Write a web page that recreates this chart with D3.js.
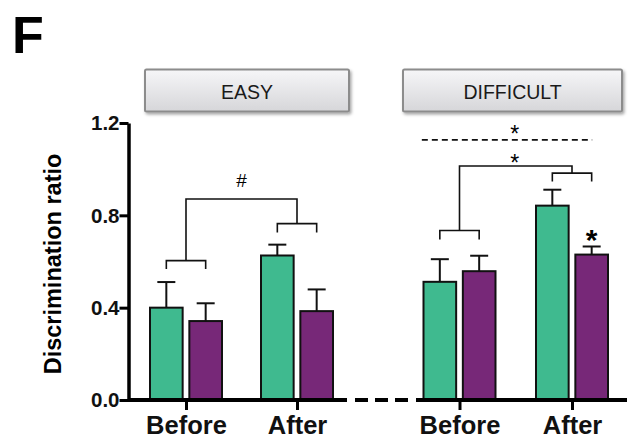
<!DOCTYPE html>
<html><head><meta charset="utf-8">
<script src="https://cdn.jsdelivr.net/npm/d3@7"></script>
<style>body{margin:0;background:#fff}svg{display:block}text{font-family:"Liberation Sans",Arial,sans-serif}</style>
</head><body><svg id="c" width="638" height="441"></svg>
<script>
// ---- data ----
const sessions = ["Before", "After"];
const series = ["Series A", "Series B"];
const seriesColors = ["#3fba8f", "#772878"];
const yTicks = [0.0, 0.4, 0.8, 1.2];
const panelTitles = ["EASY", "DIFFICULT"];
const easyA = [0.400, 0.626];
const easyAErr = [0.111, 0.047];
const easyB = [0.342, 0.385];
const easyBErr = [0.077, 0.094];
const diffA = [0.512, 0.842];
const diffAErr = [0.098, 0.069];
const diffB = [0.558, 0.630];
const diffBErr = [0.067, 0.035];

const svg = d3.select("#c");
const y = d3.scaleLinear().domain([0, 1.2]).range([400, 123]);
const sub = d3.scaleBand().domain(series).range([-36, 36]).paddingInner(0.17);
const bw = sub.bandwidth();

const panels = [
  {title: panelTitles[0], x: d3.scalePoint().domain(sessions).range([186, 297]), axis: [128, 347], box: [145, 349],
   vals: [easyA, easyB], errs: [easyAErr, easyBErr]},
  {title: panelTitles[1], x: d3.scalePoint().domain(sessions).range([459.5, 572]), axis: [416, 627], box: [403, 622],
   vals: [diffA, diffB], errs: [diffAErr, diffBErr]}
];

// defs
const defs = svg.append("defs");
const grad = defs.append("linearGradient").attr("id", "bg").attr("x1", 0).attr("x2", 0).attr("y1", 0).attr("y2", 1);
grad.append("stop").attr("offset", "0%").attr("stop-color", "#f6f6f8");
grad.append("stop").attr("offset", "100%").attr("stop-color", "#d6d6d9");
const f = defs.append("filter").attr("id", "sh").attr("x", "-10%").attr("y", "-20%").attr("width", "130%").attr("height", "160%");
f.append("feDropShadow").attr("dx", 1.5).attr("dy", 2).attr("stdDeviation", 1.5).attr("flood-color", "#000").attr("flood-opacity", 0.35);

// panel letter
svg.append("text").attr("x", 12).attr("y", 53).attr("font-size", 52).attr("font-weight", "bold").text("F");

// y axis
const ya = svg.append("g").attr("transform", "translate(128.5,0)")
  .call(d3.axisLeft(y).tickValues(yTicks).tickFormat(d3.format(".1f")).tickSize(9).tickSizeOuter(0));
ya.select(".domain").attr("stroke-width", 3.5);
ya.selectAll(".tick line").attr("stroke-width", 3);
ya.selectAll(".tick text").attr("font-size", 20.5).attr("font-weight", "bold").attr("fill", "#111").attr("x", -9).attr("dy", "0.34em");

svg.append("text").attr("transform", "translate(61,264) rotate(-90)").attr("text-anchor", "middle")
  .attr("font-size", 23.5).attr("font-weight", "bold").text("Discrimination ratio");

panels.forEach(p => {
  // title box
  svg.append("rect").attr("x", p.box[0]).attr("y", 69.5).attr("width", p.box[1] - p.box[0]).attr("height", 42)
    .attr("rx", 1.5).attr("fill", "url(#bg)").attr("stroke", "#8c8c8c").attr("stroke-width", 2).attr("filter", "url(#sh)");
  svg.append("text").attr("x", (p.box[0] + p.box[1]) / 2).attr("y", 99).attr("text-anchor", "middle")
    .attr("font-size", 19.5).attr("fill", "#1a1a1a").text(p.title);

  // bars
  p.vals.forEach((vals, si) => {
    const g = svg.append("g");
    g.selectAll("rect").data(sessions).join("rect")
      .attr("x", s => p.x(s) + sub(series[si]))
      .attr("y", (s, i) => y(vals[i]))
      .attr("width", bw)
      .attr("height", (s, i) => y(0) - y(vals[i]))
      .attr("fill", seriesColors[si]).attr("stroke", "#111").attr("stroke-width", 2);
    // error bars
    sessions.forEach((s, i) => {
      const cx = p.x(s) + sub(series[si]) + bw / 2;
      g.append("line").attr("x1", cx).attr("x2", cx).attr("y1", y(vals[i])).attr("y2", y(vals[i] + p.errs[si][i]))
        .attr("stroke", "#111").attr("stroke-width", 2);
      g.append("line").attr("x1", cx - 9).attr("x2", cx + 9).attr("y1", y(vals[i] + p.errs[si][i])).attr("y2", y(vals[i] + p.errs[si][i]))
        .attr("stroke", "#111").attr("stroke-width", 2);
    });
  });

  // x axis
  svg.append("line").attr("x1", p.axis[0]).attr("x2", p.axis[1]).attr("y1", y(0)).attr("y2", y(0))
    .attr("stroke", "#000").attr("stroke-width", 4);
  const xa = svg.append("g").attr("transform", `translate(0,${y(0)})`)
    .call(d3.axisBottom(p.x).tickSize(10).tickSizeOuter(0));
  xa.select(".domain").remove();
  xa.selectAll(".tick line").attr("stroke-width", 3).attr("stroke", "#000");
  xa.selectAll(".tick text").attr("font-size", 25.5).attr("font-weight", "bold").attr("fill", "#111").attr("y", 16).attr("dy", "0.71em");
});

// broken-axis dashes
svg.append("line").attr("x1", 355).attr("x2", 408).attr("y1", y(0)).attr("y2", y(0))
  .attr("stroke", "#000").attr("stroke-width", 4).attr("stroke-dasharray", "13,7");

// significance brackets
const brk = svg.append("g").attr("fill", "none").attr("stroke", "#111").attr("stroke-width", 1.6);
function cx(p, s, si) { return p.x(s) + sub(series[si]) + bw / 2; }
function smallBracket(p, s, top, end) {
  const x1 = cx(p, s, 0), x2 = cx(p, s, 1);
  brk.append("path").attr("d", `M${x1},${y(end)}V${y(top)}H${x2}V${y(end)}`);
  return (x1 + x2) / 2;
}
// easy
{
  const p = panels[0];
  const m1 = smallBracket(p, "Before", 0.604, 0.568);
  const m2 = smallBracket(p, "After", 0.764, 0.726);
  brk.append("path").attr("d", `M${m1},${y(0.604)}V${y(0.871)}H${m2}V${y(0.764)}`);
  svg.append("text").attr("x", (m1 + m2) / 2).attr("y", y(0.871) - 12).attr("text-anchor", "middle").attr("font-size", 19).text("#");
}
// difficult
{
  const p = panels[1];
  const m1 = smallBracket(p, "Before", 0.734, 0.695);
  const m2 = smallBracket(p, "After", 0.983, 0.947);
  brk.append("path").attr("d", `M${m1},${y(0.734)}V${y(1.014)}H${m2}V${y(0.983)}`);
  svg.append("text").attr("x", (m1 + m2) / 2 - 1).attr("y", y(1.014) + 5).attr("text-anchor", "middle").attr("font-size", 23).text("*");
  svg.append("line").attr("x1", cx(p, "Before", 0) - 18).attr("x2", cx(p, "After", 1) + 0.5).attr("y1", y(1.127)).attr("y2", y(1.127))
    .attr("stroke", "#111").attr("stroke-width", 1.6).attr("stroke-dasharray", "6,4");
  svg.append("text").attr("x", (m1 + m2) / 2 - 1).attr("y", y(1.127) + 2).attr("text-anchor", "middle").attr("font-size", 23).text("*");
  // star over After purple
  const xb = cx(p, "After", 1);
  svg.append("text").attr("x", xb).attr("y", y(diffB[1] + diffBErr[1]) + 4).attr("text-anchor", "middle")
    .attr("font-size", 30).attr("font-weight", "bold").text("*");
}
</script></body></html>
